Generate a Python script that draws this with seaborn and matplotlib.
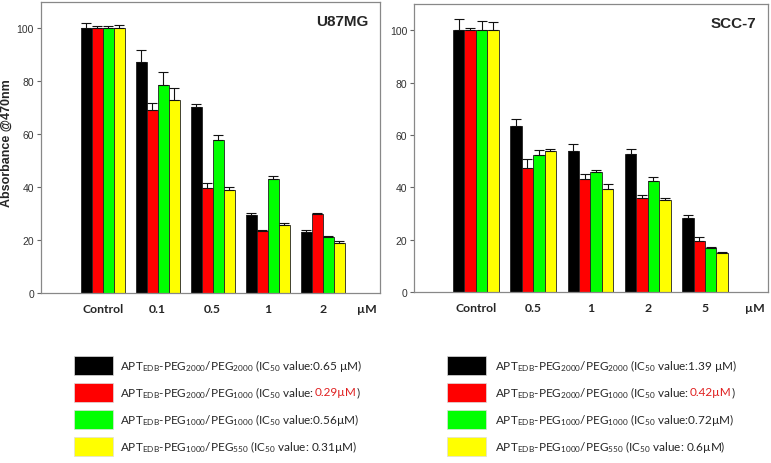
import numpy as np
import pandas as pd
import seaborn as sns
import matplotlib.pyplot as plt
from matplotlib.patches import Rectangle

# Data
series = ['PEG2000/PEG2000', 'PEG2000/PEG1000', 'PEG1000/PEG1000', 'PEG1000/PEG550']
colors = ['#000000', '#ff0000', '#00ff00', '#ffff00']

u87_doses = ['Control', '0.1', '0.5', '1', '2']
u87_vals = [[100, 87.2, 70.2, 29.4, 23.0],
            [100, 69.3, 39.8, 23.4, 29.7],
            [100, 78.7, 57.7, 43.2, 21.0],
            [100, 73.1, 39.1, 25.8, 18.9]]
u87_err = [[2.0, 4.5, 1.3, 0.9, 0.7],
           [1.1, 2.7, 1.6, 0.4, 0.6],
           [1.1, 4.8, 2.1, 1.0, 0.5],
           [1.5, 4.3, 1.0, 0.6, 0.8]]

scc_doses = ['Control', '0.5', '1', '2', '5']
scc_vals = [[100, 63.6, 54.0, 52.6, 28.3],
            [100, 47.3, 43.1, 35.9, 19.6],
            [100, 52.2, 45.8, 42.6, 16.8],
            [100, 53.7, 39.4, 35.3, 14.8]]
scc_err = [[4.3, 2.5, 2.4, 2.0, 1.2],
           [1.0, 3.5, 2.0, 1.1, 1.6],
           [3.6, 2.0, 1.0, 1.3, 0.5],
           [3.3, 1.0, 1.8, 0.6, 0.4]]

u87_labels = [
    ('APT$_{EDB}$-PEG$_{2000}$/PEG$_{2000}$ (IC$_{50}$ value:0.65 µM)', '', ''),
    ('APT$_{EDB}$-PEG$_{2000}$/PEG$_{1000}$ (IC$_{50}$ value: ', '0.29µM', ')'),
    ('APT$_{EDB}$-PEG$_{1000}$/PEG$_{1000}$ (IC$_{50}$ value:0.56µM)', '', ''),
    ('APT$_{EDB}$-PEG$_{1000}$/PEG$_{550}$ (IC$_{50}$ value: 0.31µM)', '', ''),
]
scc_labels = [
    ('APT$_{EDB}$-PEG$_{2000}$/PEG$_{2000}$ (IC$_{50}$ value:1.39 µM)', '', ''),
    ('APT$_{EDB}$-PEG$_{2000}$/PEG$_{1000}$ (IC$_{50}$ value: ', '0.42µM', ')'),
    ('APT$_{EDB}$-PEG$_{1000}$/PEG$_{1000}$ (IC$_{50}$ value:0.72µM)', '', ''),
    ('APT$_{EDB}$-PEG$_{1000}$/PEG$_{550}$ (IC$_{50}$ value: 0.6µM)', '', ''),
]

sns.set_style('white')
plt.rcParams['font.family'] = ['Liberation Sans', 'DejaVu Sans']
plt.rcParams['mathtext.default'] = 'regular'
legend_font = ['Lato', 'DejaVu Sans']

fig = plt.figure(figsize=(7.71, 4.64), dpi=100)
ax1 = fig.add_axes([0.0532, 0.3664, 0.4397, 0.6271])
ax2 = fig.add_axes([0.537, 0.3685, 0.4591, 0.6205])


def draw_panel(ax, doses, vals, errs, title, mu_pos, xlim):
    df = pd.DataFrame({
        'dose': np.tile(doses, len(series)),
        'series': np.repeat(series, len(doses)),
        'value': np.ravel(vals),
    })
    sns.barplot(data=df, x='dose', y='value', hue='series', order=doses,
                hue_order=series, palette=colors, saturation=1, width=0.8,
                errorbar=None, edgecolor='#222222', linewidth=0.6,
                legend=False, ax=ax)
    # upper error bars only, placed on the bar patches
    err = np.ravel(errs)
    bars = [p for p in ax.patches if p.get_height() > 0]
    xs = [p.get_x() + p.get_width() / 2 for p in bars]
    hs = [p.get_height() for p in bars]
    ax.errorbar(xs, hs, yerr=[np.zeros_like(err), err], fmt='none',
                ecolor='#111111', elinewidth=0.8, capsize=3.3, capthick=0.8)
    ax.set_ylim(0, 110)
    ax.set_xlim(*xlim)
    ax.set_yticks([0, 20, 40, 60, 80, 100])
    ax.set_xticks(list(range(len(doses))) + [mu_pos])
    ax.set_xticklabels(doses + ['µM'], fontsize=8.8, fontweight='bold',
                       family=legend_font)
    ax.tick_params(axis='x', length=0, pad=7)
    ax.tick_params(axis='y', length=3, width=0.8, color='#666666',
                   labelsize=7.5, labelcolor='#333333', pad=2, left=True)
    for s in ax.spines.values():
        s.set_color('#888888')
        s.set_linewidth(0.9)
    ax.set_xlabel('')
    ax.set_ylabel('')
    ax.text(0.967, 0.935, title, transform=ax.transAxes, ha='right',
            va='center', fontsize=11, fontweight='bold')


draw_panel(ax1, u87_doses, u87_vals, u87_err, 'U87MG', 4.8, (-1.12, 5.04))
draw_panel(ax2, scc_doses, scc_vals, scc_err, 'SCC-7', 4.87, (-1.08, 5.1))
ax1.set_ylabel('Absorbance @470nm', fontsize=9, fontweight='bold')
ax1.yaxis.set_label_coords(-0.082, 0.52)


def draw_legend(x_box, x_text, labels):
    fig.canvas.draw()
    renderer = fig.canvas.get_renderer()
    rows = [366, 393, 420, 447]
    for yc, col, (pre, red, post) in zip(rows, colors, labels):
        fig.add_artist(Rectangle((x_box / 771, 1 - (yc + 9.5) / 464), 39 / 771, 19 / 464,
                                 transform=fig.transFigure, facecolor=col,
                                 edgecolor='#dddddd', linewidth=0.5))
        t = fig.text(x_text / 771, 1 - yc / 464, pre, ha='left', va='center',
                     fontsize=8.5, family=legend_font)
        if red:
            bb = t.get_window_extent(renderer)
            t2 = fig.text(bb.x1 / 771, 1 - yc / 464, red, ha='left', va='center',
                          fontsize=8.5, color='#e02020', family=legend_font)
            bb2 = t2.get_window_extent(renderer)
            fig.text(bb2.x1 / 771, 1 - yc / 464, post, ha='left', va='center',
                     fontsize=8.5, family=legend_font)


draw_legend(74, 120, u87_labels)
draw_legend(447, 495, scc_labels)

fig.savefig('out.png', dpi=100)
